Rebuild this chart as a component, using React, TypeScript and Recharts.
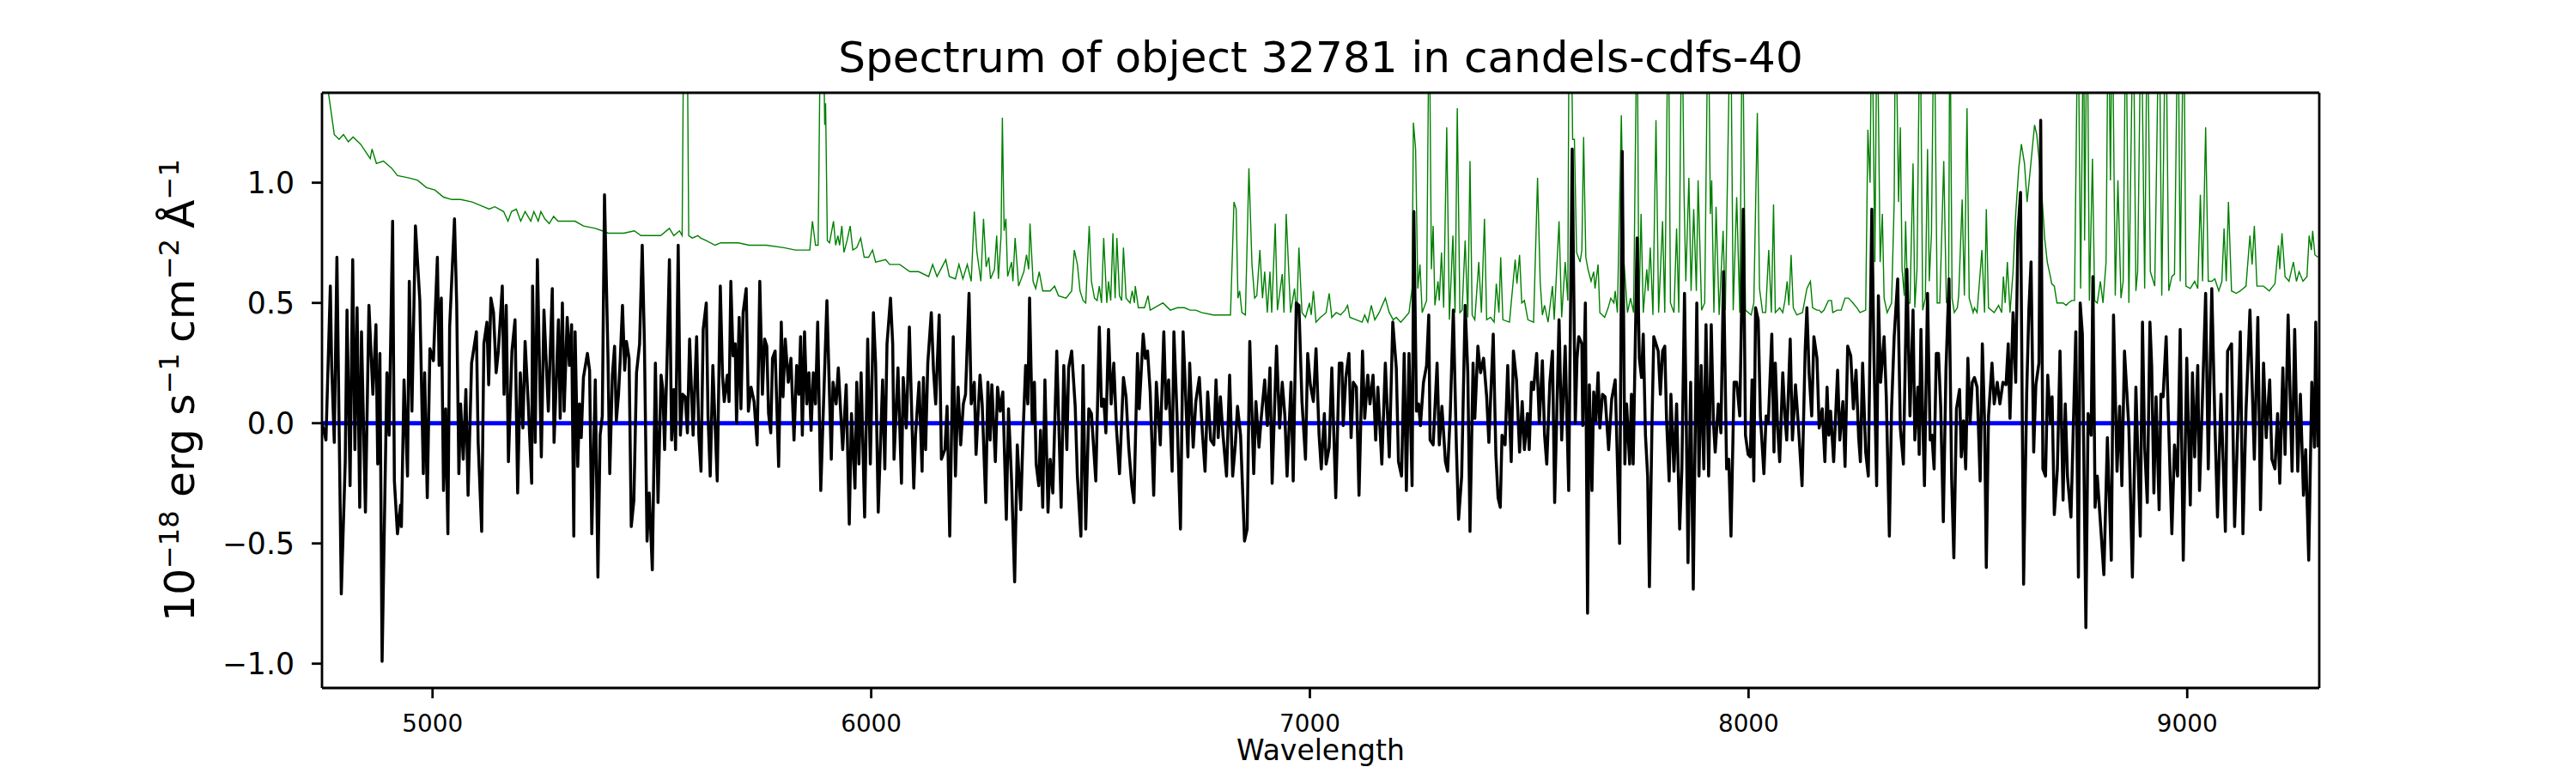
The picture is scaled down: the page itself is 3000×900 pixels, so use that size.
import { LineChart, Line, XAxis, YAxis, ReferenceLine } from "recharts";

// flux of the object, 1e-18 erg/s/cm2/A, as [wavelength, flux]
const black1 = [
  [4748, 0.0], [4757, -0.07], [4767, 0.57], [4770, 0.24], [4776, -0.08], [4782, 0.69], [4792, -0.71], [4801, -0.16],
  [4805, 0.47], [4812, -0.26], [4818, 0.68], [4823, -0.11], [4828, 0.48], [4834, -0.35], [4838, 0.38], [4847, -0.37],
  [4855, 0.49], [4864, 0.12], [4871, 0.41], [4875, -0.17], [4880, 0.29], [4885, -0.99], [4896, 0.21], [4901, -0.05],
  [4909, 0.84], [4913, -0.24], [4920, -0.46], [4927, -0.34], [4929, -0.43], [4935, 0.18], [4943, -0.22], [4947, 0.59],
  [4953, 0.05], [4961, 0.82], [4971, 0.51], [4979, -0.21], [4982, 0.21], [4988, -0.31], [4994, 0.31], [5002, 0.26],
  [5011, 0.69], [5015, 0.24], [5020, 0.52], [5025, -0.28], [5030, 0.06], [5035, -0.46], [5039, 0.4], [5050, 0.85],
  [5055, 0.5], [5060, -0.21], [5064, 0.08], [5070, -0.15], [5076, 0.14], [5081, -0.3], [5089, 0.25], [5100, 0.38],
  [5104, -0.08], [5112, -0.45], [5117, 0.33], [5124, 0.42], [5128, 0.16], [5133, 0.52], [5139, 0.46], [5145, 0.21],
  [5150, 0.3], [5159, 0.57], [5163, 0.12], [5168, 0.49], [5173, -0.16], [5181, 0.3], [5188, 0.43], [5194, -0.29],
  [5200, 0.21], [5206, -0.02], [5211, 0.34], [5218, 0.09], [5226, -0.25], [5228, 0.57], [5234, -0.08], [5239, 0.68],
  [5248, -0.14], [5254, 0.47], [5264, 0.05], [5273, 0.56], [5277, -0.08], [5287, 0.43], [5291, 0.02], [5296, 0.5],
  [5300, 0.05], [5307, 0.44], [5312, 0.24], [5317, 0.41], [5322, -0.47],
];
const black2 = [
  [5325, 0.38], [5331, -0.18], [5335, 0.08], [5339, -0.06], [5344, 0.19], [5353, 0.29], [5358, 0.22], [5363, -0.46],
  [5371, 0.18], [5377, -0.64], [5382, -0.05], [5387, 0.03], [5392, 0.95], [5400, 0.27], [5404, -0.21], [5410, 0.2],
  [5415, 0.32], [5419, 0.01], [5424, 0.12], [5428, 0.27], [5433, 0.49], [5438, 0.22], [5442, 0.34], [5448, 0.27],
  [5453, -0.43], [5459, -0.32], [5465, 0.21], [5472, 0.33], [5478, 0.74], [5483, 0.33], [5489, -0.49], [5494, -0.29],
  [5501, -0.61], [5508, 0.25], [5514, -0.33], [5521, 0.2], [5525, 0.14], [5529, -0.11], [5535, 0.29], [5540, 0.68],
  [5545, -0.07], [5550, 0.14], [5554, -0.11], [5560, 0.74], [5565, -0.05], [5570, 0.12], [5576, 0.11], [5581, -0.04],
  [5586, 0.35], [5594, -0.05], [5598, 0.16], [5602, 0.36], [5607, -0.05], [5612, -0.2], [5617, 0.39], [5624, 0.5],
  [5628, 0.03], [5633, -0.22], [5639, 0.24], [5645, -0.05], [5649, -0.24], [5656, 0.57], [5661, 0.2], [5665, 0.09],
  [5672, 0.2], [5676, 0.09], [5680, 0.59], [5685, 0.28], [5690, 0.33], [5693, 0.0], [5699, 0.44], [5703, 0.06],
  [5708, 0.46], [5715, 0.56], [5720, 0.05], [5726, 0.15], [5733, 0.09], [5740, -0.09], [5746, 0.59], [5752, 0.12],
  [5757, 0.35], [5762, 0.32], [5766, 0.04], [5771, -0.04], [5775, 0.27], [5781, 0.3], [5789, -0.18], [5795, 0.42],
  [5799, 0.11], [5804, 0.35], [5811, 0.17], [5817, 0.27], [5824, -0.07], [5830, 0.24], [5835, 0.12], [5839, 0.36],
  [5843, -0.05], [5848, 0.38], [5853, 0.08], [5858, 0.21], [5863, -0.03], [5868, 0.21], [5873, 0.08], [5878, 0.42],
  [5885, -0.28], [5889, -0.05],
];
const black3 = [
  [5899, 0.51], [5909, -0.15], [5913, 0.17], [5920, 0.08], [5925, 0.23], [5935, -0.11], [5943, 0.16], [5950, -0.42],
  [5955, 0.04], [5963, -0.27], [5967, 0.17], [5972, -0.17], [5977, 0.21], [5985, -0.39], [5992, 0.35], [5998, -0.17],
  [6005, 0.46], [6010, 0.25], [6016, -0.37], [6026, 0.18], [6031, -0.19], [6036, 0.33], [6044, 0.52], [6049, 0.33],
  [6052, -0.15], [6061, 0.23], [6069, -0.25], [6073, 0.19], [6080, -0.02], [6087, 0.4], [6097, -0.27], [6101, -0.05],
  [6109, 0.17], [6116, -0.2], [6119, 0.19], [6124, -0.11], [6129, 0.25], [6137, 0.46], [6142, 0.22], [6147, 0.08],
  [6155, 0.45], [6160, -0.15], [6168, -0.11], [6173, 0.07], [6179, -0.47], [6187, 0.36], [6192, -0.22], [6198, 0.15],
  [6204, -0.09], [6210, 0.08], [6215, 0.12], [6223, 0.54], [6228, 0.08], [6235, 0.17], [6239, -0.13], [6248, 0.2],
  [6253, 0.08], [6261, -0.33], [6266, 0.17], [6271, -0.07], [6275, 0.16], [6283, -0.16], [6288, 0.15], [6294, 0.05],
  [6300, 0.13], [6308, -0.4], [6313, 0.06], [6320, -0.24], [6327, -0.66], [6333, -0.09], [6341, -0.36], [6346, -0.05],
  [6352, 0.24], [6357, 0.08], [6361, 0.52], [6367, 0.0], [6372, 0.17], [6376, -0.17], [6382, -0.26], [6386, -0.03],
  [6391, -0.35], [6396, 0.18], [6403, -0.37], [6408, -0.15], [6414, -0.29], [6423, 0.3], [6433, -0.35], [6439, 0.24],
  [6446, -0.11], [6450, 0.23], [6457, 0.3],
];
const black4 = [
  [6465, 0.07], [6470, -0.22], [6478, -0.47], [6483, 0.24], [6489, -0.44], [6496, 0.06], [6502, 0.04], [6512, -0.24],
  [6520, 0.4], [6525, 0.07], [6530, 0.1], [6535, -0.04], [6541, 0.39], [6547, 0.08], [6553, 0.25], [6559, -0.02],
  [6566, -0.21], [6575, 0.19], [6581, 0.11], [6587, -0.1], [6594, -0.26], [6599, -0.33], [6607, 0.29], [6611, 0.06],
  [6620, 0.37], [6625, 0.27], [6630, 0.3], [6636, 0.13], [6644, -0.3], [6650, 0.17], [6659, -0.09], [6667, 0.38],
  [6672, 0.06], [6678, 0.18], [6686, -0.2], [6690, 0.38], [6697, 0.04], [6705, -0.44], [6711, 0.38], [6718, 0.06],
  [6722, -0.14], [6726, 0.25], [6734, -0.1], [6740, 0.09], [6748, 0.19], [6755, -0.04], [6761, -0.2], [6767, 0.13],
  [6774, -0.07], [6781, -0.09], [6786, 0.18], [6791, -0.06], [6796, 0.11], [6802, -0.05], [6810, -0.22], [6817, 0.2],
  [6824, -0.22], [6830, -0.09], [6835, 0.07], [6842, -0.05], [6851, -0.49], [6857, -0.44], [6863, 0.34], [6872, -0.21],
  [6877, 0.09], [6884, -0.1], [6889, 0.02], [6897, 0.18], [6903, -0.01], [6909, 0.23], [6914, -0.25], [6924, 0.32],
  [6931, -0.02], [6937, 0.17], [6943, 0.03], [6948, -0.22], [6957, 0.17], [6962, -0.24], [6969, 0.5], [6975, 0.49],
  [6982, 0.09], [6990, -0.15], [6995, 0.29], [7001, 0.16], [7008, 0.09], [7014, 0.31], [7021, -0.05], [7026, -0.19],
];
const black5 = [
  [7033, 0.04], [7037, -0.17], [7044, -0.1], [7050, 0.23], [7059, -0.31], [7067, 0.25], [7073, 0.25], [7076, -0.01],
  [7082, 0.19], [7089, 0.29], [7094, -0.06], [7099, 0.17], [7106, 0.15], [7112, -0.3], [7120, 0.3], [7125, 0.02],
  [7132, 0.2], [7137, 0.08], [7144, 0.2], [7150, -0.07], [7155, 0.15], [7164, -0.17], [7172, 0.25], [7181, -0.14],
  [7189, 0.42], [7197, 0.23], [7202, -0.16], [7209, -0.22], [7215, 0.29], [7220, -0.28], [7226, 0.29], [7233, -0.26],
  [7237, 0.88], [7243, 0.05], [7248, 0.08], [7252, -0.01], [7259, 0.17], [7266, 0.24], [7271, 0.45], [7274, -0.07],
  [7281, -0.09], [7290, 0.25], [7295, -0.09], [7301, 0.07], [7309, -0.16], [7314, -0.2], [7320, 0.04], [7327, 0.47],
  [7334, -0.1], [7339, -0.4], [7346, -0.22], [7354, 0.49], [7360, 0.21], [7365, -0.45], [7372, 0.25], [7376, 0.02],
  [7383, 0.32], [7389, 0.21], [7396, 0.27], [7403, 0.11], [7408, -0.08], [7418, 0.37], [7424, -0.13], [7429, -0.31],
  [7434, -0.35], [7438, -0.05], [7445, -0.09], [7451, 0.24], [7459, -0.16], [7464, 0.3], [7471, 0.18], [7478, -0.12],
  [7484, 0.09], [7489, -0.11], [7496, 0.04], [7500, -0.11], [7505, 0.17], [7510, 0.14], [7517, 0.29], [7523, 0.0],
  [7530, 0.26], [7535, -0.05], [7540, -0.17], [7547, 0.17], [7553, 0.3], [7558, -0.33], [7568, 0.43], [7574, -0.07],
  [7582, 0.32], [7590, -0.28],
];
const black6 = [
  [7598, 1.14], [7605, 0.0], [7609, 0.27], [7613, 0.36], [7620, 0.33], [7622, -0.01], [7628, 0.5], [7633, -0.79],
  [7637, 0.16], [7643, -0.28], [7647, 0.13], [7652, 0.01], [7657, 0.21], [7661, -0.02], [7667, 0.12], [7673, 0.11],
  [7681, -0.11], [7688, 0.1], [7696, 0.18], [7706, -0.5], [7712, 1.13], [7718, -0.17], [7722, 0.08], [7729, -0.17],
  [7733, 0.12], [7737, -0.17], [7746, 0.77], [7751, 0.27], [7756, 0.19], [7760, 0.37], [7765, -0.05], [7770, -0.22],
  [7774, -0.68], [7780, 0.01], [7784, 0.36], [7789, 0.33], [7794, 0.3], [7799, 0.12], [7804, 0.3], [7809, 0.32],
  [7813, 0.02], [7819, -0.24], [7823, 0.12], [7830, -0.2], [7836, 0.08], [7843, -0.44], [7848, -0.19], [7854, 0.54],
  [7858, 0.01], [7862, -0.58], [7868, 0.17], [7874, -0.69], [7882, 0.5], [7887, -0.22], [7892, 0.24], [7898, -0.19],
  [7903, 0.41], [7909, -0.22], [7915, 0.41], [7920, 0.0], [7924, -0.12], [7931, 0.08], [7937, -0.04], [7943, 0.63],
  [7950, -0.19], [7955, -0.15], [7960, -0.47], [7967, 0.17], [7973, 0.17], [7980, 0.03], [7988, 0.89], [7993, -0.05],
  [7999, -0.13], [8004, -0.14], [8008, 0.18], [8012, -0.24], [8016, 0.48], [8022, 0.43], [8027, 0.03], [8035, -0.21],
  [8040, 0.03], [8045, 0.0], [8053, 0.37], [8058, -0.12], [8061, 0.25], [8066, -0.01], [8071, -0.16], [8078, 0.21],
  [8083, 0.03], [8087, -0.07], [8095, 0.35], [8100, -0.07], [8107, 0.16], [8114, -0.02], [8122, -0.26], [8129, 0.3],
  [8133, 0.48], [8138, 0.21], [8144, 0.03], [8149, 0.36], [8156, 0.27], [8161, -0.02],
];
const black7 = [
  [8168, 0.06], [8174, -0.16], [8179, 0.15], [8183, -0.05], [8187, 0.05], [8194, -0.16], [8203, 0.22], [8208, -0.07],
  [8215, 0.09], [8220, -0.18], [8226, 0.32], [8233, 0.28], [8239, 0.06], [8245, 0.22], [8251, -0.06], [8255, -0.16],
  [8260, 0.25], [8267, -0.12], [8273, -0.22], [8281, 0.89], [8286, 0.27], [8292, -0.26], [8296, 0.53], [8301, 0.17],
  [8309, 0.36], [8314, 0.11], [8321, -0.47], [8326, 0.06], [8332, 0.36], [8340, 0.6], [8346, -0.02], [8353, -0.17],
  [8361, 0.64], [8368, 0.03], [8375, 0.47], [8379, -0.07], [8386, 0.15], [8389, -0.13], [8393, 0.39], [8397, 0.02],
  [8401, -0.26], [8408, 0.54], [8414, -0.07], [8418, -0.05], [8423, -0.19], [8428, 0.29], [8433, 0.29], [8438, 0.07],
  [8444, -0.41], [8450, 0.22], [8457, 0.6], [8463, -0.23], [8468, -0.56], [8474, 0.06], [8481, 0.14], [8485, -0.14],
  [8490, 0.01], [8495, -0.19], [8500, 0.27], [8505, 0.0], [8510, 0.17], [8515, 0.19], [8521, 0.15], [8528, -0.24],
  [8533, 0.33], [8538, 0.01], [8542, -0.6], [8547, 0.03], [8555, 0.25], [8560, 0.08], [8567, 0.17], [8573, 0.08],
  [8580, 0.17], [8587, 0.16], [8592, 0.33], [8596, 0.02], [8603, 0.46], [8609, 0.17], [8614, 0.79], [8620, 0.96],
  [8627, -0.67], [8634, 0.12], [8639, 0.47], [8644, 0.67], [8650, -0.12], [8655, 0.16], [8662, 0.25], [8666, 1.26],
  [8671, -0.19], [8677, -0.22], [8682, 0.2], [8688, 0.0], [8692, 0.11], [8697, -0.38], [8704, -0.19], [8710, 0.3],
  [8717, -0.32], [8722, 0.08], [8727, -0.22],
];
const black8 = [
  [8735, -0.39], [8740, -0.04], [8746, 0.38], [8752, -0.64], [8756, 0.5], [8761, 0.37], [8769, -0.85], [8774, 0.04],
  [8781, -0.05], [8785, 0.61], [8790, -0.35], [8795, -0.22], [8802, -0.41], [8810, -0.63], [8818, -0.06], [8827, -0.57],
  [8832, 0.45], [8840, -0.2], [8846, 0.07], [8851, -0.26], [8857, 0.3], [8867, -0.02], [8875, -0.64], [8883, 0.15],
  [8893, -0.47], [8898, 0.42], [8903, -0.1], [8909, -0.33], [8915, 0.42], [8919, 0.24], [8924, -0.29], [8929, 0.11],
  [8936, -0.36], [8940, 0.12], [8945, 0.11], [8952, 0.36], [8957, 0.03], [8965, -0.46], [8971, -0.09], [8978, -0.22],
  [8984, 0.39], [8991, -0.57], [8999, 0.27], [9007, -0.34], [9012, 0.21], [9017, -0.14], [9024, 0.24], [9028, -0.28],
  [9033, 0.0], [9042, 0.54], [9048, -0.19], [9056, 0.56], [9063, 0.01], [9069, -0.39], [9077, 0.12], [9087, -0.45],
  [9092, 0.3], [9101, 0.33], [9108, -0.43], [9115, -0.03], [9121, 0.38], [9127, -0.46], [9134, 0.05], [9143, 0.47],
  [9153, -0.15], [9161, 0.44], [9167, -0.36], [9174, 0.25], [9180, -0.06], [9188, 0.18], [9193, -0.15], [9200, -0.19],
  [9206, 0.04], [9211, -0.25], [9218, 0.23], [9223, -0.13], [9230, 0.45], [9239, -0.2], [9245, 0.39], [9252, -0.2],
  [9258, 0.12], [9265, -0.3], [9270, -0.11], [9277, -0.57], [9284, 0.17], [9290, -0.1], [9293, 0.42], [9298, -0.1],
];

// noise / sky spectrum (green), same units
const green1 = [
  [4748, 1.5], [4763, 1.37], [4776, 1.2], [4787, 1.18], [4797, 1.2], [4808, 1.17], [4819, 1.19], [4836, 1.16],
  [4858, 1.1], [4862, 1.14], [4872, 1.08], [4888, 1.09], [4907, 1.06], [4920, 1.03], [4946, 1.02], [4966, 1.01],
  [4986, 0.98], [5005, 0.97], [5025, 0.94], [5044, 0.93], [5064, 0.93], [5090, 0.92], [5116, 0.9], [5129, 0.89],
  [5142, 0.9], [5162, 0.88], [5172, 0.84], [5180, 0.88], [5191, 0.89], [5201, 0.84], [5211, 0.88], [5224, 0.84],
  [5231, 0.88], [5241, 0.84], [5247, 0.88], [5256, 0.85], [5266, 0.83], [5276, 0.86], [5286, 0.84], [5305, 0.84],
  [5325, 0.84], [5344, 0.82], [5371, 0.81], [5387, 0.8], [5400, 0.79], [5436, 0.79], [5460, 0.8], [5475, 0.78],
  [5520, 0.78], [5540, 0.81], [5550, 0.78], [5563, 0.8], [5569, 0.78], [5573, 1.8], [5580, 1.8], [5584, 0.78],
  [5592, 0.77], [5605, 0.78], [5611, 0.77], [5623, 0.76], [5644, 0.74], [5657, 0.75], [5697, 0.75], [5722, 0.74],
  [5761, 0.74], [5801, 0.73], [5827, 0.72], [5860, 0.72], [5866, 0.84], [5873, 0.74], [5879, 0.74], [5885, 1.8],
  [5890, 1.8], [5894, 1.24], [5896, 1.33], [5900, 0.76],
];
const green2 = [
  [5905, 0.75], [5914, 0.84], [5919, 0.74], [5924, 0.78], [5928, 0.74], [5933, 0.82], [5938, 0.71], [5945, 0.76],
  [5952, 0.82], [5958, 0.72], [5967, 0.73], [5976, 0.77], [5984, 0.69], [5994, 0.69], [6003, 0.72], [6010, 0.67],
  [6033, 0.68], [6042, 0.66], [6065, 0.66], [6088, 0.63], [6108, 0.63], [6131, 0.61], [6140, 0.66], [6150, 0.61],
  [6170, 0.68], [6178, 0.61], [6192, 0.6], [6200, 0.66], [6209, 0.6], [6219, 0.66], [6228, 0.59], [6235, 0.88],
  [6241, 0.71], [6250, 0.59], [6256, 0.85], [6262, 0.65], [6268, 0.69], [6272, 0.6], [6281, 0.64], [6286, 0.78],
  [6290, 0.6], [6296, 0.78], [6299, 1.27], [6303, 0.8], [6307, 0.85], [6311, 0.61], [6320, 0.67], [6323, 0.59],
  [6328, 0.77], [6336, 0.57], [6348, 0.63], [6354, 0.7], [6359, 0.64], [6362, 0.83], [6369, 0.59], [6375, 0.56],
  [6383, 0.63], [6391, 0.55], [6401, 0.55], [6408, 0.55], [6418, 0.57], [6427, 0.53], [6444, 0.52], [6457, 0.55],
];
const green3 = [
  [6463, 0.72], [6470, 0.66], [6476, 0.55], [6483, 0.51], [6489, 0.5], [6497, 0.82], [6502, 0.59], [6509, 0.52],
  [6515, 0.51], [6520, 0.57], [6525, 0.5], [6530, 0.77], [6537, 0.5], [6541, 0.59], [6546, 0.51], [6551, 0.79],
  [6556, 0.52], [6560, 0.77], [6566, 0.53], [6571, 0.51], [6575, 0.73], [6581, 0.52], [6590, 0.5], [6595, 0.55],
  [6600, 0.5], [6602, 0.57], [6609, 0.48], [6623, 0.48], [6631, 0.53], [6636, 0.47], [6665, 0.5], [6682, 0.47],
  [6698, 0.48], [6714, 0.48], [6727, 0.47], [6740, 0.47], [6753, 0.46], [6780, 0.45], [6796, 0.45], [6819, 0.45],
  [6827, 0.92], [6832, 0.89], [6836, 0.52], [6840, 0.55], [6845, 0.46], [6853, 0.45], [6861, 1.06], [6868, 0.66],
  [6874, 0.52], [6879, 0.53], [6886, 0.72], [6892, 0.52], [6897, 0.63], [6903, 0.46], [6909, 0.63], [6913, 0.46],
  [6921, 0.83], [6926, 0.47], [6937, 0.62], [6941, 0.46], [6946, 0.87], [6956, 0.46], [6965, 0.56], [6970, 0.45],
  [6975, 0.73], [6982, 0.46], [6990, 0.44], [6999, 0.5], [7003, 0.45], [7008, 0.55], [7014, 0.42], [7024, 0.44],
];
const green4 = [
  [7031, 0.45], [7037, 0.46], [7044, 0.54], [7050, 0.44], [7060, 0.46], [7070, 0.45], [7080, 0.47], [7086, 0.49],
  [7091, 0.44], [7106, 0.43], [7119, 0.42], [7125, 0.45], [7132, 0.42], [7140, 0.49], [7148, 0.43], [7158, 0.46],
  [7172, 0.52], [7181, 0.46], [7190, 0.43], [7197, 0.44], [7207, 0.42], [7217, 0.44], [7226, 0.46], [7233, 0.56],
  [7236, 1.25], [7241, 1.14], [7246, 0.56], [7251, 0.66], [7256, 0.46], [7266, 0.51], [7272, 1.8], [7277, 0.64],
  [7281, 0.82], [7285, 0.49], [7292, 0.59], [7295, 0.51], [7300, 0.71], [7305, 0.48], [7312, 1.23], [7318, 0.43],
  [7326, 0.78], [7331, 0.46], [7336, 1.31], [7342, 0.46], [7347, 0.47], [7354, 0.76], [7360, 0.44], [7365, 1.09],
  [7370, 0.45], [7376, 0.43], [7385, 0.67], [7391, 0.46], [7398, 0.85], [7403, 0.43], [7412, 0.44], [7420, 0.42],
  [7425, 0.58], [7431, 0.46], [7435, 0.69], [7440, 0.43], [7455, 0.42], [7468, 0.68], [7472, 0.58], [7478, 0.7],
  [7483, 0.5], [7489, 0.51], [7497, 0.43], [7510, 0.42], [7519, 1.02], [7525, 0.59], [7530, 0.45], [7535, 0.49],
  [7543, 0.42], [7553, 0.57], [7557, 0.43], [7568, 0.84], [7574, 0.44], [7582, 0.67], [7588, 0.51],
];
const green5 = [
  [7591, 1.8], [7595, 1.8], [7599, 1.18], [7603, 1.18], [7608, 0.71], [7616, 0.67], [7620, 0.72], [7624, 1.19],
  [7629, 0.69], [7634, 0.64], [7641, 0.59], [7647, 0.63], [7650, 0.56], [7657, 0.66], [7661, 0.46], [7672, 0.44],
  [7680, 0.48], [7686, 0.52], [7693, 0.5], [7696, 0.55], [7701, 0.46], [7710, 1.28], [7716, 0.67], [7724, 0.46],
  [7731, 0.52], [7738, 0.46], [7746, 1.8], [7750, 0.45], [7755, 0.87], [7760, 0.46], [7768, 0.64], [7771, 0.55],
  [7776, 0.73], [7782, 0.45], [7789, 1.26], [7795, 0.46], [7804, 0.84], [7809, 0.46], [7817, 1.8], [7822, 0.5],
  [7830, 0.46], [7836, 0.81], [7841, 0.46], [7848, 1.8], [7853, 0.95], [7857, 0.59], [7864, 1.02], [7869, 0.55],
  [7875, 0.89], [7881, 0.55], [7885, 1.01], [7893, 0.47], [7900, 0.5], [7908, 1.8], [7913, 0.87], [7916, 1.01],
  [7921, 0.46], [7926, 0.9], [7933, 0.45], [7942, 0.8], [7947, 0.47], [7959, 1.8], [7965, 0.47], [7973, 0.94],
  [7980, 0.46], [7986, 1.8], [7993, 0.47], [8006, 0.45], [8012, 0.5], [8020, 1.29], [8025, 0.56], [8032, 0.46],
  [8039, 0.46], [8046, 0.72], [8052, 0.46], [8057, 0.91], [8061, 0.46], [8071, 0.48], [8078, 0.46], [8083, 0.51],
  [8088, 0.59], [8092, 0.49], [8097, 0.7], [8102, 0.48], [8110, 0.45], [8123, 0.46], [8133, 0.56], [8141, 0.59],
  [8146, 0.48], [8156, 0.47], [8161, 0.47],
];
const green6 = [
  [8166, 0.46], [8172, 0.47], [8182, 0.51], [8189, 0.51], [8192, 0.46], [8202, 0.47], [8211, 0.47], [8220, 0.52],
  [8228, 0.52], [8238, 0.5], [8247, 0.48], [8254, 0.46], [8267, 0.47], [8272, 1.22], [8277, 1.0], [8281, 1.8],
  [8288, 0.67], [8293, 1.8], [8300, 0.67], [8305, 0.87], [8309, 0.52], [8316, 0.46], [8326, 0.5], [8332, 0.92],
  [8335, 1.8], [8342, 0.92], [8346, 1.23], [8350, 0.64], [8355, 0.53], [8358, 0.84], [8363, 0.5], [8368, 0.5],
  [8375, 1.08], [8379, 0.48], [8384, 0.64], [8391, 1.8], [8397, 0.47], [8403, 0.52], [8408, 1.14], [8412, 0.59],
  [8417, 0.79], [8423, 1.8], [8430, 0.5], [8436, 0.5], [8445, 1.09], [8451, 0.5], [8456, 0.53], [8459, 1.8],
  [8464, 0.52], [8469, 0.46], [8476, 0.48], [8479, 0.53], [8487, 0.93], [8492, 0.53], [8498, 1.31], [8503, 0.52],
  [8512, 0.46], [8515, 0.48], [8521, 0.46], [8532, 0.72], [8538, 0.46], [8542, 0.89], [8547, 0.48], [8560, 0.46],
  [8570, 0.49], [8577, 0.46], [8581, 0.61], [8585, 0.5], [8590, 0.67], [8596, 0.46], [8603, 0.63], [8609, 0.87],
  [8616, 1.06], [8622, 1.16], [8629, 1.08], [8635, 0.92], [8642, 1.05], [8652, 1.24], [8657, 1.2], [8662, 1.1],
  [8668, 0.97], [8675, 0.77], [8681, 0.67], [8688, 0.61], [8691, 0.58], [8697, 0.57], [8703, 0.5], [8709, 0.5],
  [8717, 0.5], [8724, 0.49], [8729, 0.5],
];
const green7 = [
  [8737, 0.51], [8743, 0.51], [8751, 1.8], [8757, 0.56], [8764, 1.8], [8766, 0.76], [8772, 1.8], [8777, 0.51],
  [8784, 1.1], [8789, 0.51], [8795, 0.5], [8802, 0.59], [8808, 0.5], [8815, 0.67], [8820, 1.8], [8825, 1.01],
  [8829, 1.8], [8836, 0.53], [8842, 1.01], [8849, 0.52], [8854, 0.59], [8860, 1.8], [8867, 0.5], [8877, 1.8],
  [8883, 0.55], [8887, 0.63], [8895, 1.8], [8903, 0.56], [8909, 1.8], [8916, 0.63], [8926, 0.57], [8936, 1.8],
  [8942, 0.53], [8951, 1.8], [8958, 0.55], [8965, 0.61], [8971, 0.62], [8979, 1.8], [8984, 0.59], [8992, 1.8],
  [8997, 0.57], [9007, 0.56], [9017, 0.59], [9024, 0.56], [9030, 0.95], [9035, 0.59], [9042, 1.23], [9048, 0.59],
  [9056, 0.59], [9063, 0.6], [9072, 0.55], [9079, 0.59], [9084, 0.81], [9089, 0.59], [9094, 0.92], [9101, 0.55],
  [9112, 0.54], [9121, 0.55], [9134, 0.57], [9143, 0.78], [9148, 0.66], [9153, 0.82], [9159, 0.57], [9174, 0.57],
  [9187, 0.55], [9200, 0.58], [9208, 0.74], [9211, 0.64], [9216, 0.79], [9223, 0.61], [9232, 0.59], [9242, 0.67],
  [9249, 0.59], [9255, 0.63], [9264, 0.59], [9273, 0.61], [9278, 0.78], [9283, 0.72], [9286, 0.8], [9291, 0.7],
  [9298, 0.69],
];

// zero level
const zeroWave = [4748, 9301];
const zeroFlux = [0, 0];

const xDomain = [4748, 9301];
const yDomain = [-1.101, 1.374];
const xTicks = [5000, 6000, 7000, 8000, 9000];
const yTicks = [-1.0, -0.5, 0.0, 0.5, 1.0];

const FONT = "DejaVu Sans";
const TITLE = "Spectrum of object 32781 in candels-cdfs-40";

const toRows = (segs) => segs.flat().map(([w, f]) => ({ w, f }));
const blackData = toRows([black1, black2, black3, black4, black5, black6, black7, black8]);
const greenData = toRows([green1, green2, green3, green4, green5, green6, green7]);
const zeroData = zeroWave.map((w, i) => ({ w, f: zeroFlux[i] }));

const fmtY = (v) => (v < 0 ? "\u2212" : "") + Math.abs(v).toFixed(1);

function XLabel(props) {
  const vb = props.viewBox || { x: 375, y: 801, width: 2326, height: 99 };
  return (
    <text x={vb.x + vb.width / 2} y={vb.y + 84} textAnchor="middle" fontFamily={FONT} fontSize={33} fill="#000">
      Wavelength
    </text>
  );
}

function YLabel(props) {
  const vb = props.viewBox || { x: 0, y: 108, width: 375, height: 693 };
  const cx = vb.x + 226;
  const cy = vb.y + vb.height / 2;
  const sup = 32;
  const up = -18;
  return (
    <text x={cx} y={cy} transform={`rotate(-90, ${cx}, ${cy})`} textAnchor="middle" fontFamily={FONT} fontSize={48.6} fill="#000">
      <tspan>10</tspan>
      <tspan fontSize={sup} dy={up}>{"\u221218"}</tspan>
      <tspan dy={-up}>{"\u00a0erg s"}</tspan>
      <tspan fontSize={sup} dy={up}>{"\u22121"}</tspan>
      <tspan dy={-up}>{"\u2005cm"}</tspan>
      <tspan fontSize={sup} dy={up}>{"\u22122"}</tspan>
      <tspan dy={-up}>{"\u2005\u00c5"}</tspan>
      <tspan fontSize={sup} dy={up}>{"\u22121"}</tspan>
    </text>
  );
}

const axisStroke = { stroke: "#000", strokeWidth: 2.8 };

export default function App() {
  return (
    <div style={{ position: "absolute", left: 0, top: 0, width: 3000, height: 900, background: "#fff" }}>
      <svg width={3000} height={110} style={{ position: "absolute", left: 0, top: 0 }}>
        <text x={1538} y={84} textAnchor="middle" fontFamily={FONT} fontSize={50} fill="#000">
          {TITLE}
        </text>
      </svg>
      <div style={{ position: "absolute", left: 0, top: 0 }}>
        <LineChart width={3000} height={900} margin={{ top: 108, right: 299, left: 0, bottom: 0 }}>
          <XAxis
            dataKey="w"
            type="number"
            domain={xDomain}
            allowDataOverflow
            ticks={xTicks}
            interval={0}
            height={99}
            tickSize={12}
            tickMargin={19}
            axisLine={axisStroke}
            tickLine={axisStroke}
            tick={{ fill: "#000", fontFamily: FONT, fontSize: 27.8 }}
            label={(p) => <XLabel {...p} />}
          />
          <YAxis
            type="number"
            domain={yDomain}
            allowDataOverflow
            ticks={yTicks}
            interval={0}
            width={375}
            tickSize={12}
            tickMargin={20}
            tickFormatter={fmtY}
            axisLine={axisStroke}
            tickLine={axisStroke}
            tick={{ fill: "#000", fontFamily: FONT, fontSize: 34.7 }}
            label={(p) => <YLabel {...p} />}
          />
          <Line
            data={greenData}
            dataKey="f"
            type="linear"
            stroke="#008000"
            strokeWidth={1.4}
            dot={false}
            activeDot={false}
            isAnimationActive={false}
          />
          <Line
            data={zeroData}
            dataKey="f"
            type="linear"
            stroke="#0000ff"
            strokeWidth={5}
            dot={false}
            activeDot={false}
            isAnimationActive={false}
          />
          <Line
            data={blackData}
            dataKey="f"
            type="linear"
            stroke="#000"
            strokeWidth={3.5}
            strokeLinejoin="round"
            dot={false}
            activeDot={false}
            isAnimationActive={false}
          />
          {/* top and right spines of the frame */}
          <ReferenceLine y={yDomain[1]} stroke="#000" strokeWidth={2.8} />
          <ReferenceLine x={xDomain[1]} stroke="#000" strokeWidth={2.8} />
        </LineChart>
      </div>
    </div>
  );
}
